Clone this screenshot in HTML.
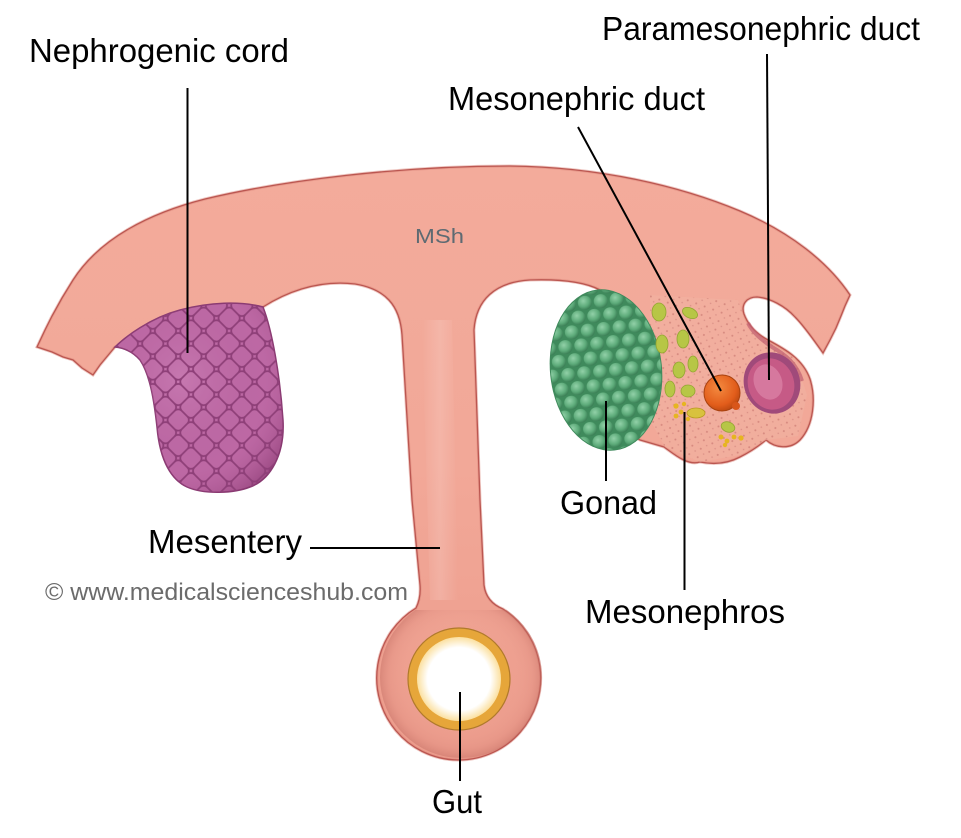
<!DOCTYPE html>
<html><head><meta charset="utf-8"><style>
html,body{margin:0;padding:0;background:#fff;}
svg{display:block}
text{font-family:"Liberation Sans",Arial,sans-serif;}
</style></head><body>
<svg width="961" height="838" viewBox="0 0 961 838" xmlns="http://www.w3.org/2000/svg">
<defs>
  <linearGradient id="bandG" x1="0" y1="0" x2="0" y2="1">
    <stop offset="0" stop-color="#f3ab9b"/>
    <stop offset="0.5" stop-color="#f2a898"/>
    <stop offset="1" stop-color="#ec9c8c"/>
  </linearGradient>
  <pattern id="net" width="18" height="18" patternUnits="userSpaceOnUse" patternTransform="rotate(45)">
    <rect x="0" y="0" width="18" height="18" rx="5" fill="none" stroke="#8e3f78" stroke-width="1.7"/>
  </pattern>
  <radialGradient id="cordShade" cx="0.4" cy="0.4" r="0.7">
    <stop offset="0" stop-color="#d088bc" stop-opacity="0.5"/>
    <stop offset="0.7" stop-color="#b05c97" stop-opacity="0"/>
    <stop offset="1" stop-color="#7e2f66" stop-opacity="0.45"/>
  </radialGradient>
  <radialGradient id="bump" cx="0.4" cy="0.35" r="0.7">
    <stop offset="0" stop-color="#92d1a8"/>
    <stop offset="0.6" stop-color="#5dab7a"/>
    <stop offset="1" stop-color="#367850"/>
  </radialGradient>
  <pattern id="bumps" width="16" height="28" patternUnits="userSpaceOnUse">
    <circle cx="8" cy="7" r="7" fill="url(#bump)"/>
    <circle cx="0" cy="21" r="7" fill="url(#bump)"/>
    <circle cx="16" cy="21" r="7" fill="url(#bump)"/>
  </pattern>
  <pattern id="speck" width="9" height="9" patternUnits="userSpaceOnUse" patternTransform="rotate(20)">
    <circle cx="2" cy="2" r="1" fill="#d3857c"/>
    <circle cx="6.5" cy="6" r="0.8" fill="#d88d84"/>
  </pattern>
  <radialGradient id="ringShade" cx="0.5" cy="0.5" r="0.5">
    <stop offset="0.6" stop-color="#f3ab9b" stop-opacity="0"/>
    <stop offset="0.88" stop-color="#d98478" stop-opacity="0.25"/>
    <stop offset="1" stop-color="#c06a60" stop-opacity="0.45"/>
  </radialGradient>
  <clipPath id="ringClip"><rect x="360" y="610" width="200" height="160"/></clipPath>
  <radialGradient id="orange" cx="0.4" cy="0.35" r="0.7">
    <stop offset="0" stop-color="#f48a40"/>
    <stop offset="0.7" stop-color="#e25d1b"/>
    <stop offset="1" stop-color="#b8460f"/>
  </radialGradient>
  <radialGradient id="hole" cx="0.5" cy="0.5" r="0.5">
    <stop offset="0.75" stop-color="#ffffff"/>
    <stop offset="1" stop-color="#fbe0a0"/>
  </radialGradient>
  <linearGradient id="mesHL" x1="0" y1="0" x2="1" y2="0">
    <stop offset="0" stop-color="#fff" stop-opacity="0"/>
    <stop offset="0.5" stop-color="#fff" stop-opacity="0.15"/>
    <stop offset="1" stop-color="#fff" stop-opacity="0"/>
  </linearGradient>
</defs>

<!-- main body: band + mesentery + gut ring -->
<path d="M73,280 C100,238 150,213 205,199 C285,180 400,166 510,166 C600,167 680,186 740,211 C790,232 828,262 850,295 L845,306 L841,316 L836,328 L830,340 L823,353 C815,342 805,327 795,317 C785,306 770,298 757,297 C746,297 741,305 744,314 C748,325 757,334 768,340 C785,349 803,359 810,379 C816,398 814,425 800,440 C790,450 775,448 766,440 C760,445 750,452 740,457 C725,465 710,464 700,462 C688,466 675,455 664,447 L640,440 L600,420 L575,330 L600,290 C585,282 560,279 530,280 C495,282 476,300 474,330 L480,500 L484,585 Q486,602 503,609 A82,82 0 1,1 416,608 Q421,598 420,585 L412,500 L402,335 C400,305 385,289 355,284 C320,280 290,290 263,307 L115,347 L110,353 L100,365 L93,375 L82,368 L73,360 L63,357 L52,352 L37,347 L45,330 L52,316 L62,298 Z"
 fill="url(#bandG)" stroke="#d98277" stroke-width="3" stroke-opacity="0.45"/>
<path d="M73,280 C100,238 150,213 205,199 C285,180 400,166 510,166 C600,167 680,186 740,211 C790,232 828,262 850,295 L845,306 L841,316 L836,328 L830,340 L823,353 C815,342 805,327 795,317 C785,306 770,298 757,297 C746,297 741,305 744,314 C748,325 757,334 768,340 C785,349 803,359 810,379 C816,398 814,425 800,440 C790,450 775,448 766,440 C760,445 750,452 740,457 C725,465 710,464 700,462 C688,466 675,455 664,447 L640,440 L600,420 L575,330 L600,290 C585,282 560,279 530,280 C495,282 476,300 474,330 L480,500 L484,585 Q486,602 503,609 A82,82 0 1,1 416,608 Q421,598 420,585 L412,500 L402,335 C400,305 385,289 355,284 C320,280 290,290 263,307 L115,347 L110,353 L100,365 L93,375 L82,368 L73,360 L63,357 L52,352 L37,347 L45,330 L52,316 L62,298 Z"
 fill="none" stroke="#bb5650" stroke-width="1.3"/>

<!-- mesentery highlight -->
<path d="M422,320 L452,320 L458,600 L430,600 Z" fill="url(#mesHL)"/>

<!-- ring shading -->
<circle cx="461" cy="677" r="81" fill="url(#ringShade)" clip-path="url(#ringClip)"/>
<!-- yellow gut lining -->
<circle cx="459" cy="679" r="51" fill="#e6a63a" stroke="#b07a2c" stroke-width="1.2"/>
<circle cx="459" cy="679" r="42" fill="url(#hole)"/>

<!-- mesonephros tissue -->
<path d="M650,295 L738,300 L748,330 L795,358 L807,395 L798,436 L766,440 L740,455 L700,462 L665,447 L650,420 Z" fill="#f0b2a2" opacity="0.55"/>
<path d="M650,295 L738,300 L748,330 L795,358 L807,395 L798,436 L766,440 L740,455 L700,462 L665,447 L650,420 Z" fill="url(#speck)" opacity="0.9"/>

<!-- notch rim (pouch side, inset into tissue) -->
<path d="M748,323 C753,333 762,340 772,347 C786,355 797,364 802,381" fill="none" stroke="#c06070" stroke-width="4" opacity="0.7"/>

<!-- nephrogenic cord -->
<path d="M115,347 C125,337 150,318 180,310 C210,302 240,301 263,307 C272,330 280,375 283,420 C285,455 270,480 250,487 C235,493 205,495 187,487 C172,480 160,462 157,427 C154,400 150,375 140,360 C133,352 125,348 115,347 Z" fill="#bd68a4" stroke="#8a3a72" stroke-width="1.5"/>
<path d="M115,347 C125,337 150,318 180,310 C210,302 240,301 263,307 C272,330 280,375 283,420 C285,455 270,480 250,487 C235,493 205,495 187,487 C172,480 160,462 157,427 C154,400 150,375 140,360 C133,352 125,348 115,347 Z" fill="url(#cordShade)"/>
<path d="M115,347 C125,337 150,318 180,310 C210,302 240,301 263,307 C272,330 280,375 283,420 C285,455 270,480 250,487 C235,493 205,495 187,487 C172,480 160,462 157,427 C154,400 150,375 140,360 C133,352 125,348 115,347 Z" fill="url(#net)"/>

<!-- gonad -->
<ellipse cx="606" cy="370" rx="56" ry="81" fill="#3f8a5c" transform="rotate(-6 606 370)"/>
<ellipse cx="606" cy="370" rx="55" ry="80" fill="url(#bumps)" transform="rotate(-6 606 370)"/>

<!-- mesonephric tubules -->
<g fill="#b7c646" stroke="#93a532" stroke-width="0.8">
  <ellipse cx="659" cy="312" rx="7" ry="9"/>
  <ellipse cx="690" cy="313" rx="8" ry="5" transform="rotate(25 690 313)"/>
  <ellipse cx="662" cy="344" rx="6" ry="9"/>
  <ellipse cx="683" cy="339" rx="6" ry="9"/>
  <ellipse cx="679" cy="370" rx="6" ry="8"/>
  <ellipse cx="693" cy="364" rx="5" ry="8"/>
  <ellipse cx="670" cy="389" rx="5" ry="8"/>
  <ellipse cx="688" cy="391" rx="7" ry="6"/>
  <ellipse cx="728" cy="427" rx="7" ry="5" transform="rotate(20 728 427)"/>
</g>
<ellipse cx="696" cy="413" rx="9" ry="5" fill="#d8c23e" stroke="#b89a20" stroke-width="0.8"/>
<g fill="#e6b521">
  <circle cx="676" cy="406" r="2.6"/><circle cx="681" cy="412" r="2.4"/><circle cx="684" cy="404" r="2.2"/>
  <circle cx="676" cy="416" r="2.4"/><circle cx="688" cy="419" r="2.2"/>
  <circle cx="721" cy="437" r="2.5"/><circle cx="727" cy="441" r="2.4"/><circle cx="734" cy="437" r="2.4"/>
  <circle cx="741" cy="438" r="2.6"/><circle cx="725" cy="445" r="2.2"/>
</g>

<!-- mesonephric duct -->
<circle cx="722" cy="393" r="18" fill="url(#orange)" stroke="#a8420f" stroke-width="1"/>
<circle cx="736" cy="406" r="4" fill="#d8561a"/>

<!-- paramesonephric duct -->
<ellipse cx="772" cy="383" rx="28" ry="31" fill="#a04a7a" transform="rotate(-20 772 383)"/>
<ellipse cx="771" cy="384" rx="23" ry="26" fill="#c65a86" transform="rotate(-20 771 384)"/>
<ellipse cx="768" cy="382" rx="14" ry="18" fill="#d6789e" transform="rotate(-20 768 382)"/>

<!-- leader lines -->
<g stroke="#000" stroke-width="2" fill="none">
  <line x1="187.5" y1="88" x2="187.5" y2="353"/>
  <line x1="578" y1="127" x2="721" y2="391"/>
  <line x1="767" y1="54" x2="769" y2="380"/>
  <line x1="606" y1="401" x2="606" y2="481"/>
  <line x1="684.5" y1="412" x2="684.5" y2="590"/>
  <line x1="310" y1="548" x2="440" y2="548"/>
  <line x1="460" y1="692" x2="460" y2="781"/>
</g>

<!-- labels -->
<g font-size="33" fill="#000">
  <text x="29" y="62" textLength="260" lengthAdjust="spacingAndGlyphs">Nephrogenic cord</text>
  <text x="602" y="40" textLength="318" lengthAdjust="spacingAndGlyphs">Paramesonephric duct</text>
  <text x="448" y="110" textLength="257" lengthAdjust="spacingAndGlyphs">Mesonephric duct</text>
  <text x="148" y="553" textLength="154" lengthAdjust="spacingAndGlyphs">Mesentery</text>
  <text x="560" y="514" textLength="97" lengthAdjust="spacingAndGlyphs">Gonad</text>
  <text x="585" y="623" textLength="200" lengthAdjust="spacingAndGlyphs">Mesonephros</text>
  <text x="432" y="813" textLength="50" lengthAdjust="spacingAndGlyphs">Gut</text>
</g>
<text x="45" y="600" font-size="24.5" fill="#6b6b6b" textLength="363" lengthAdjust="spacingAndGlyphs">© www.medicalscienceshub.com</text>
<text x="415" y="243" font-size="20" fill="#5e6a72" textLength="49" lengthAdjust="spacingAndGlyphs">MSh</text>
</svg>
</body></html>
